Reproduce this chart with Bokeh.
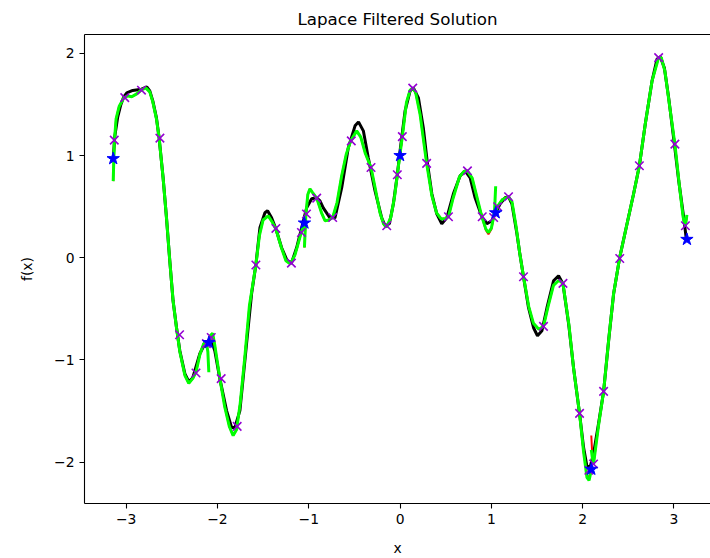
from bokeh.plotting import figure
from bokeh.models import Range1d, LinearAxis, FixedTicker
from bokeh.embed import file_html
from bokeh.resources import INLINE

# ---------------- data ----------------
true_x = [-3.141, -3.125, -3.092, -3.059, -3.026, -2.993, -2.928, -2.832, -2.774, -2.741,
          -2.708, -2.668, -2.639, -2.595, -2.558, -2.522, -2.486, -2.448, -2.412, -2.357,
          -2.314, -2.270, -2.193, -2.127, -2.065, -2.029, -1.974, -1.900, -1.845, -1.809,
          -1.754, -1.681, -1.626, -1.579, -1.535, -1.480, -1.451, -1.407, -1.360, -1.297,
          -1.236, -1.188, -1.133, -1.078, -1.023, -0.968, -0.913, -0.877, -0.841, -0.768,
          -0.713, -0.639, -0.567, -0.493, -0.455, -0.402, -0.348, -0.274, -0.201, -0.164,
          -0.117, -0.073, -0.030, 0.000, 0.055, 0.110, 0.146, 0.201, 0.255, 0.299,
          0.348, 0.402, 0.457, 0.512, 0.584, 0.658, 0.713, 0.768, 0.822, 0.896,
          0.951, 1.005, 1.042, 1.096, 1.151, 1.188, 1.225, 1.280, 1.310, 1.352,
          1.407, 1.462, 1.505, 1.554, 1.609, 1.681, 1.736, 1.784, 1.846, 1.900,
          1.966, 2.010, 2.047, 2.083, 2.119, 2.174, 2.229, 2.284, 2.339, 2.405,
          2.486, 2.558, 2.621, 2.686, 2.760, 2.815, 2.851, 2.895, 2.942, 3.004,
          3.052, 3.107, 3.136]
true_y = [0.968, 1.183, 1.379, 1.496, 1.575, 1.614, 1.638, 1.650, 1.672, 1.633,
          1.535, 1.369, 1.174, 0.782, 0.391, -0.029, -0.421, -0.685, -0.910, -1.134,
          -1.213, -1.174, -0.939, -0.822, -0.812, -0.910, -1.183, -1.496, -1.660, -1.660,
          -1.496, -0.841, -0.352, -0.068, 0.293, 0.440, 0.460, 0.391, 0.284, 0.098,
          -0.029, -0.049, 0.098, 0.293, 0.489, 0.577, 0.587, 0.557, 0.489, 0.391,
          0.391, 0.685, 1.076, 1.291, 1.330, 1.242, 0.978, 0.655, 0.391, 0.313,
          0.333, 0.528, 0.812, 1.046, 1.438, 1.633, 1.663, 1.565, 1.271, 0.929,
          0.626, 0.430, 0.333, 0.391, 0.626, 0.802, 0.851, 0.782, 0.587, 0.401,
          0.333, 0.362, 0.430, 0.528, 0.587, 0.597, 0.528, 0.235, 0.049, -0.186,
          -0.489, -0.685, -0.763, -0.714, -0.489, -0.225, -0.176, -0.254, -0.645, -1.076,
          -1.526, -1.858, -2.044, -2.044, -1.917, -1.623, -1.311, -0.812, -0.352, 0.000,
          0.333, 0.626, 0.900, 1.311, 1.731, 1.946, 1.966, 1.858, 1.565, 1.115,
          0.753, 0.391, 0.176]

# element 1  [-pi, -2pi/3]
e1_x = [-3.1416, -3.130, -3.110, -3.077, -3.026, -2.982, -2.939, -2.884, -2.832, -2.785,
        -2.741, -2.708, -2.668, -2.639, -2.595, -2.558, -2.522, -2.486, -2.448, -2.412,
        -2.357, -2.314, -2.270, -2.235, -2.193, -2.150, -2.121, -2.105, -2.0944]
e1_green = [0.75, 1.12, 1.36, 1.48, 1.565, 1.584, 1.575, 1.604, 1.643, 1.663,
            1.623, 1.526, 1.359, 1.174, 0.78, 0.39, -0.03, -0.42, -0.69, -0.92,
            -1.15, -1.23, -1.18, -1.12, -0.95, -0.84, -0.83, -0.92, -1.12]
e1_red = [0.75, 1.12, 1.36, 1.48, 1.565, 1.584, 1.575, 1.604, 1.643, 1.663,
          1.623, 1.526, 1.359, 1.174, 0.78, 0.39, -0.03, -0.42, -0.69, -0.92,
          -1.15, -1.23, -1.18, -1.12, -0.94, -0.84, -0.82, -0.81, -0.82]

# element 2  [-2pi/3, -pi/3]
e2_x = [-2.0944, -2.075, -2.053, -2.030, -1.974, -1.920, -1.870, -1.828, -1.790, -1.750,
        -1.700, -1.650, -1.579, -1.540, -1.500, -1.444, -1.400, -1.360, -1.300, -1.250,
        -1.200, -1.150, -1.100, -1.078, -1.0472]
e2_green = [-0.82, -0.76, -0.74, -0.85, -1.18, -1.46, -1.65, -1.74, -1.68, -1.42,
            -0.97, -0.47, -0.07, 0.22, 0.37, 0.41, 0.35, 0.28, 0.10, -0.03,
            -0.06, 0.03, 0.19, 0.26, 0.34]
e2_red = [-0.82, -0.76, -0.74, -0.85, -1.18, -1.46, -1.65, -1.74, -1.68, -1.42,
          -0.97, -0.47, -0.07, 0.22, 0.37, 0.41, 0.35, 0.28, 0.10, -0.03,
          -0.06, 0.03, 0.19, 0.26, 0.34]

# element 3  [-pi/3, 0]
e3_x = [-1.0472, -1.031, -1.010, -0.987, -0.960, -0.913, -0.860, -0.822, -0.780, -0.738,
        -0.690, -0.640, -0.590, -0.541, -0.475, -0.430, -0.380, -0.318, -0.270, -0.220,
        -0.180, -0.146, -0.100, -0.060, -0.030, 0.0]
e3_green = [0.10, 0.43, 0.62, 0.675, 0.64, 0.584, 0.44, 0.362, 0.37, 0.394,
            0.54, 0.80, 1.01, 1.144, 1.242, 1.18, 1.02, 0.883, 0.67, 0.44,
            0.33, 0.30, 0.40, 0.60, 0.812, 1.02]
e3_red = [0.10, 0.43, 0.62, 0.675, 0.64, 0.584, 0.44, 0.362, 0.37, 0.394,
          0.54, 0.80, 1.01, 1.144, 1.242, 1.18, 1.02, 0.883, 0.67, 0.44,
          0.33, 0.30, 0.40, 0.60, 0.812, 1.02]

# element 4  [0, pi/3]
e4_x = [0.0, 0.025, 0.070, 0.110, 0.139, 0.170, 0.220, 0.291, 0.350, 0.400,
        0.450, 0.500, 0.530, 0.580, 0.650, 0.700, 0.738, 0.790, 0.840, 0.896,
        0.940, 0.968, 1.000, 1.025, 1.036, 1.0472]
e4_green = [1.02, 1.186, 1.52, 1.64, 1.66, 1.62, 1.40, 0.924, 0.60, 0.44,
            0.38, 0.385, 0.401, 0.58, 0.79, 0.845, 0.851, 0.78, 0.60, 0.401,
            0.28, 0.247, 0.29, 0.40, 0.48, 0.70]
e4_red = [1.02, 1.186, 1.52, 1.64, 1.66, 1.62, 1.40, 0.924, 0.60, 0.44,
          0.38, 0.385, 0.401, 0.58, 0.79, 0.845, 0.851, 0.78, 0.60, 0.401,
          0.27, 0.23, 0.28, 0.39, 0.44, 0.50]

# element 5  [pi/3, 2pi/3]
e5_x = [1.0472, 1.064, 1.120, 1.188, 1.225, 1.270, 1.310, 1.352, 1.410, 1.460,
        1.520, 1.571, 1.620, 1.680, 1.740, 1.784, 1.850, 1.900, 1.966, 2.010,
        2.047, 2.070, 2.0944]
e5_green = [0.44, 0.499, 0.57, 0.597, 0.55, 0.31, 0.05, -0.186, -0.48, -0.64,
            -0.70, -0.672, -0.48, -0.27, -0.22, -0.251, -0.66, -1.08, -1.523, -1.90,
            -2.15, -2.18, -2.08]
e5_red = [0.44, 0.499, 0.57, 0.597, 0.55, 0.31, 0.05, -0.186, -0.48, -0.64,
          -0.70, -0.672, -0.48, -0.27, -0.22, -0.251, -0.66, -1.08, -1.523, -1.90,
          -2.13, -2.15, -2.08]

# element 6  [2pi/3, pi]
e6_x = [2.0944, 2.105, 2.119, 2.174, 2.229, 2.290, 2.339, 2.405, 2.486, 2.558,
        2.621, 2.686, 2.760, 2.832, 2.860, 2.900, 2.950, 3.010, 3.060, 3.100,
        3.125, 3.1416]
e6_green = [-1.88, -1.95, -2.018, -1.64, -1.311, -0.76, -0.35, 0.0, 0.333, 0.626,
            0.90, 1.311, 1.731, 1.959, 1.96, 1.83, 1.50, 1.112, 0.70, 0.40,
            0.313, 0.42]
e6_red = [-1.74, -1.93, -2.018, -1.64, -1.311, -0.76, -0.35, 0.0, 0.333, 0.626,
          0.90, 1.311, 1.731, 1.959, 1.96, 1.83, 1.50, 1.112, 0.70, 0.40,
          0.313, 0.40]

# sample nodes (purple crosses)
node_x = [-3.130, -3.015, -2.832, -2.630, -2.415, -2.235, -2.121,
          -2.068, -1.959, -1.784, -1.579, -1.360, -1.190, -1.080,
          -1.025, -0.913, -0.738, -0.534, -0.318, -0.146, -0.030,
          0.025, 0.139, 0.291, 0.530, 0.738, 0.900, 1.025,
          1.070, 1.188, 1.352, 1.571, 1.784, 1.966, 2.068,
          2.119, 2.229, 2.406, 2.621, 2.832, 3.010, 3.125]
node_y = [1.151, 1.567, 1.640, 1.171, -0.753, -1.128, -0.84,
          -0.78, -1.183, -1.650, -0.071, 0.287, -0.052, 0.247,
          0.428, 0.584, 0.394, 1.144, 0.883, 0.313, 0.812,
          1.186, 1.660, 0.924, 0.401, 0.851, 0.401, 0.394,
          0.499, 0.597, -0.186, -0.672, -0.251, -1.523, -2.08,
          -2.018, -1.308, -0.007, 0.900, 1.959, 1.112, 0.313]

# element interface values (blue stars)
edge_x = [-3.1416, -2.0944, -1.0472, 0.0, 1.0472, 2.0944, 3.1416]
edge_y = [0.97, -0.83, 0.34, 1.00, 0.44, -2.07, 0.18]

x_ticks = [-3, -2, -1, 0, 1, 2, 3]
y_ticks = [-2, -1, 0, 1, 2]

# ---------------- figure ----------------
FONT = "DejaVu Sans"
p = figure(width=710, height=558, output_backend="svg", toolbar_location=None,
           x_range=Range1d(-3.456, 3.40), y_range=Range1d(-2.405, 2.185),
           min_border_left=84, min_border_right=0, min_border_top=33,
           min_border_bottom=55, title="Lapace Filtered Solution",
           x_axis_label="x", y_axis_label="f(x)")
p.grid.visible = False
p.outline_line_color = None
p.background_fill_color = "white"
p.border_fill_color = "white"

p.title.align = "center"
p.title.text_font = FONT
p.title.text_font_size = "16.7px"
p.title.text_font_style = "normal"
p.title.text_color = "black"
p.title.text_line_height = 1.0
p.title.standoff = 12

p.xaxis.ticker = FixedTicker(ticks=x_ticks)
p.yaxis.ticker = FixedTicker(ticks=y_ticks)
p.xaxis.major_label_overrides = {t: str(t).replace("-", "\u2212") for t in x_ticks}
p.yaxis.major_label_overrides = {t: str(t).replace("-", "\u2212") for t in y_ticks}
for ax in (p.xaxis, p.yaxis):
    ax.axis_line_color = "black"
    ax.axis_line_width = 1.1
    ax.major_tick_line_color = "black"
    ax.major_tick_line_width = 1.1
    ax.major_tick_out = 5
    ax.major_tick_in = 0
    ax.minor_tick_line_color = None
    ax.major_label_text_font = FONT
    ax.major_label_text_font_size = "13.9px"
    ax.major_label_text_color = "black"
    ax.major_label_standoff = 5
    ax.axis_label_text_font = FONT
    ax.axis_label_text_font_size = "13.9px"
    ax.axis_label_text_font_style = "normal"
    ax.axis_label_text_color = "black"
p.xaxis.axis_label_standoff = 13
p.yaxis.axis_label_standoff = 16

top_axis = LinearAxis(ticker=FixedTicker(ticks=[]), axis_line_color="black",
                      axis_line_width=1.1, major_tick_line_color=None,
                      minor_tick_line_color=None)
p.add_layout(top_axis, "above")

# true solution
p.line(true_x, true_y, line_color="black", line_width=3)

# unfiltered (red) and filtered (green) element solutions
elements = [(e1_x, e1_green, e1_red), (e2_x, e2_green, e2_red), (e3_x, e3_green, e3_red),
            (e4_x, e4_green, e4_red), (e5_x, e5_green, e5_red), (e6_x, e6_green, e6_red)]
for ex, eg, er in elements:
    p.line(ex, er, line_color="red", line_width=2)
for ex, eg, er in elements:
    p.line(ex, eg, line_color="#00ff00", line_width=3)

p.scatter(node_x, node_y, marker="x", size=12, line_color="darkviolet", line_width=1.6)
p.scatter(edge_x, edge_y, marker="star", size=13, fill_color="blue", line_color="blue")

open("out.html", "w").write(file_html(p, INLINE))
